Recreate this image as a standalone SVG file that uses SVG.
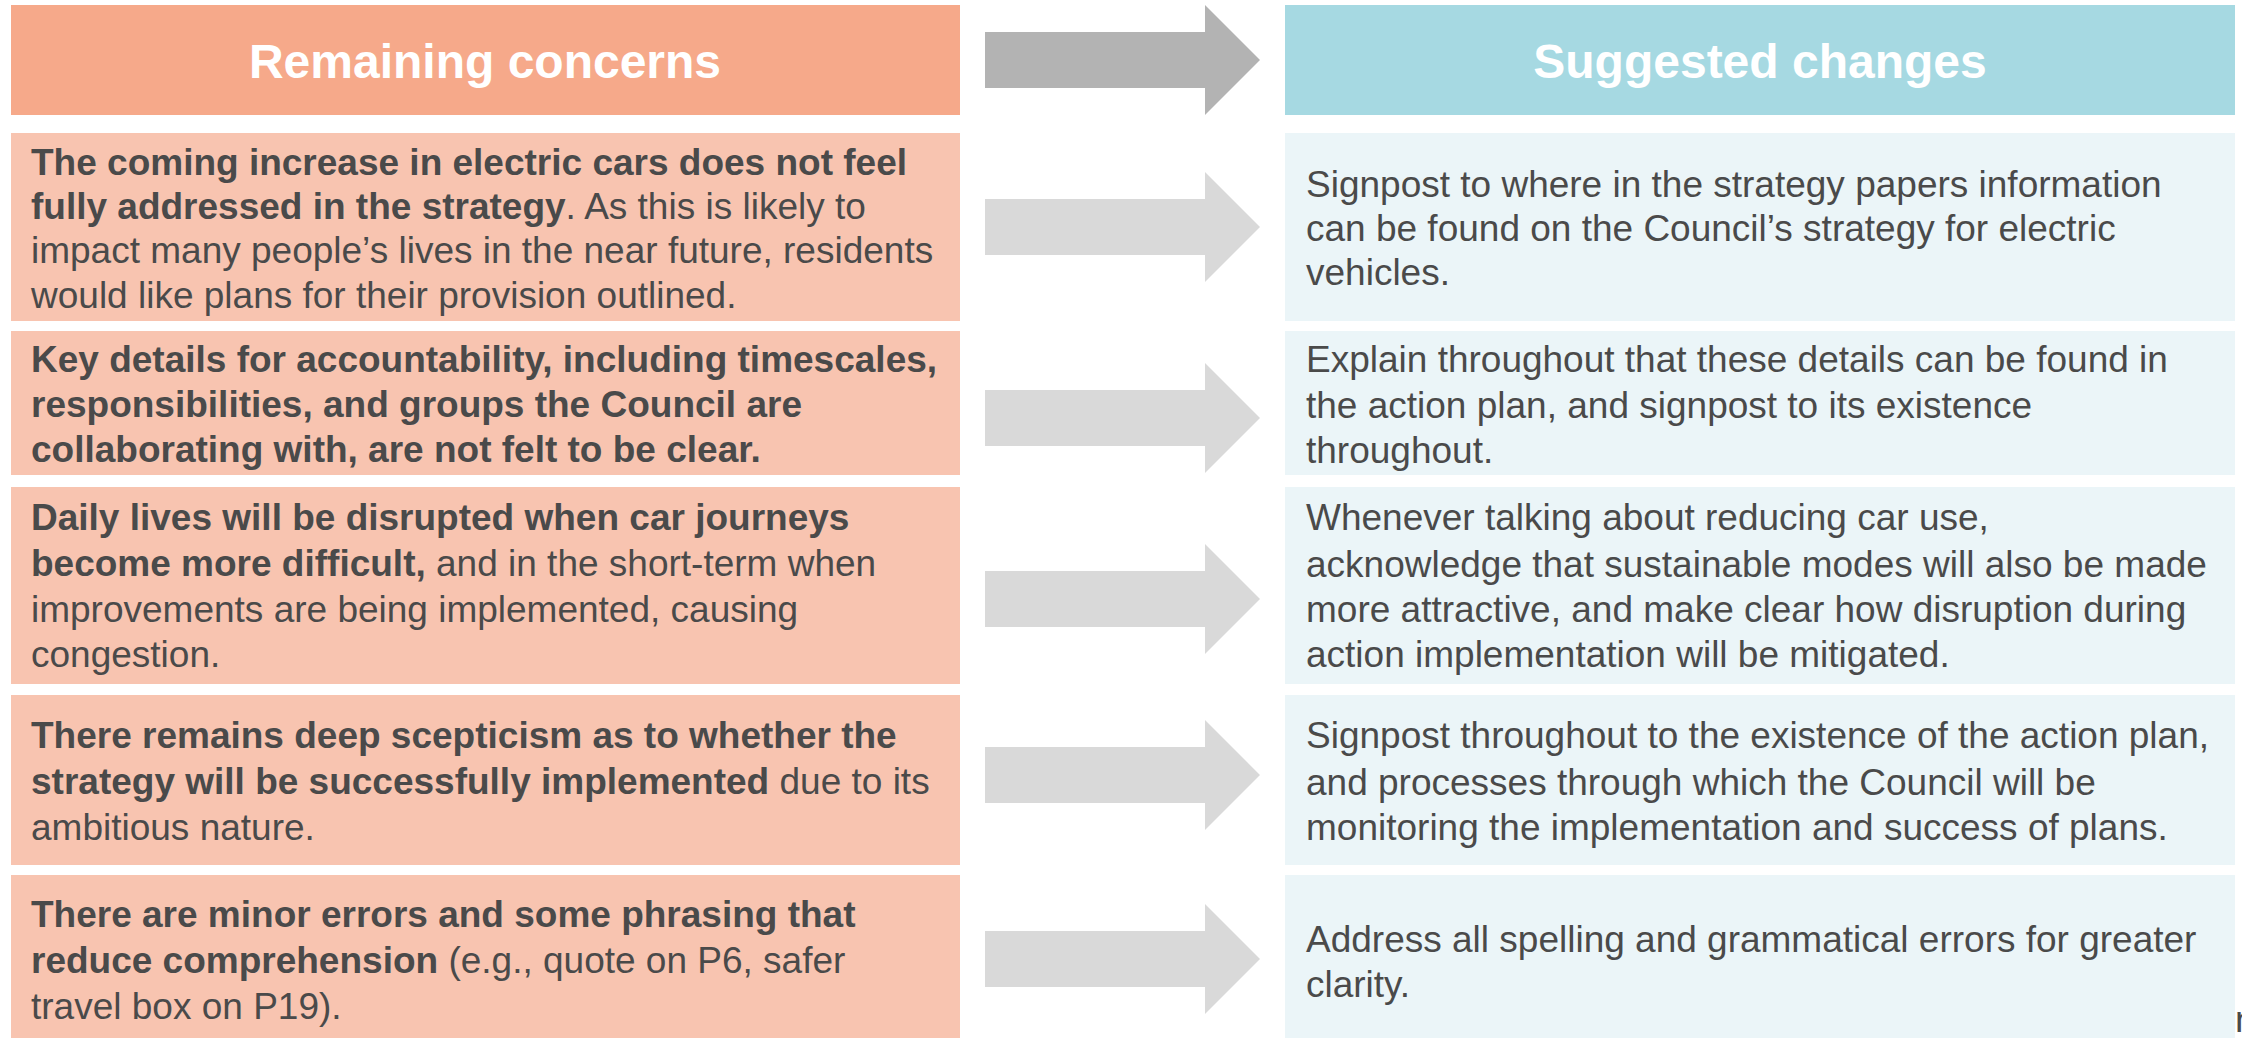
<svg xmlns="http://www.w3.org/2000/svg" width="2242" height="1038" viewBox="0 0 2242 1038">
<style>
.hl{fill:#F6A98A}
.hr{fill:#A6D9E2}
.bl{fill:#F8C4B0}
.br{fill:#EBF5F8}
.ht{font-family:"Liberation Sans",Arial,sans-serif;font-size:48px;font-weight:bold;fill:#ffffff;text-anchor:middle}
.t{font-family:"Liberation Sans",Arial,sans-serif;font-size:37px;fill:#4a4a4a}
.b{font-weight:bold}
.a0{fill:#B3B3B3}
.a{fill:#D9D9D9}
</style>
<defs>
<polygon id="arr" points="985,-28 1205,-28 1205,-55 1260,0 1205,55 1205,28 985,28"/>
</defs>
<rect width="2242" height="1038" fill="#ffffff"/>
<g id="header-left">
<rect class="hl" x="11" y="5" width="949" height="110"/>
<text class="ht" x="485" y="78">Remaining concerns</text>
</g>
<g id="header-right">
<rect class="hr" x="1285" y="5" width="950" height="110"/>
<text class="ht" x="1760" y="78">Suggested changes</text>
</g>
<g id="concern-1">
<rect class="bl" x="11" y="133" width="949" height="188"/>
<text class="t"><tspan class="b" x="31" y="175">The coming increase in electric cars does not feel</tspan><tspan x="31" y="219"><tspan class="b">fully addressed in the strategy</tspan>. As this is likely to</tspan><tspan x="31" y="263">impact many people’s lives in the near future, residents</tspan><tspan x="31" y="308">would like plans for their provision outlined.</tspan></text>
</g>
<g id="concern-2">
<rect class="bl" x="11" y="331" width="949" height="144"/>
<text class="t b"><tspan x="31" y="372">Key details for accountability, including timescales,</tspan><tspan x="31" y="417">responsibilities, and groups the Council are</tspan><tspan x="31" y="462">collaborating with, are not felt to be clear.</tspan></text>
</g>
<g id="concern-3">
<rect class="bl" x="11" y="487" width="949" height="197"/>
<text class="t"><tspan class="b" x="31" y="530">Daily lives will be disrupted when car journeys</tspan><tspan x="31" y="576"><tspan class="b">become more difficult,</tspan> and in the short-term when</tspan><tspan x="31" y="622">improvements are being implemented, causing</tspan><tspan x="31" y="667">congestion.</tspan></text>
</g>
<g id="concern-4">
<rect class="bl" x="11" y="695" width="949" height="170"/>
<text class="t"><tspan class="b" x="31" y="748">There remains deep scepticism as to whether the</tspan><tspan x="31" y="794"><tspan class="b">strategy will be successfully implemented</tspan> due to its</tspan><tspan x="31" y="840">ambitious nature.</tspan></text>
</g>
<g id="concern-5">
<rect class="bl" x="11" y="875" width="949" height="163"/>
<text class="t"><tspan class="b" x="31" y="927">There are minor errors and some phrasing that</tspan><tspan x="31" y="973"><tspan class="b">reduce comprehension</tspan> (e.g., quote on P6, safer</tspan><tspan x="31" y="1019">travel box on P19).</tspan></text>
</g>
<g id="change-1">
<rect class="br" x="1285" y="133" width="950" height="188"/>
<text class="t"><tspan x="1306" y="197">Signpost to where in the strategy papers information</tspan><tspan x="1306" y="241">can be found on the Council’s strategy for electric</tspan><tspan x="1306" y="285">vehicles.</tspan></text>
</g>
<g id="change-2">
<rect class="br" x="1285" y="331" width="950" height="144"/>
<text class="t"><tspan x="1306" y="372">Explain throughout that these details can be found in</tspan><tspan x="1306" y="418">the action plan, and signpost to its existence</tspan><tspan x="1306" y="463">throughout.</tspan></text>
</g>
<g id="change-3">
<rect class="br" x="1285" y="487" width="950" height="197"/>
<text class="t"><tspan x="1306" y="530">Whenever talking about reducing car use,</tspan><tspan x="1306" y="577">acknowledge that sustainable modes will also be made</tspan><tspan x="1306" y="622">more attractive, and make clear how disruption during</tspan><tspan x="1306" y="667">action implementation will be mitigated.</tspan></text>
</g>
<g id="change-4">
<rect class="br" x="1285" y="695" width="950" height="170"/>
<text class="t"><tspan x="1306" y="748">Signpost throughout to the existence of the action plan,</tspan><tspan x="1306" y="795">and processes through which the Council will be</tspan><tspan x="1306" y="840">monitoring the implementation and success of plans.</tspan></text>
</g>
<g id="change-5">
<rect class="br" x="1285" y="875" width="950" height="163"/>
<text class="t"><tspan x="1306" y="952">Address all spelling and grammatical errors for greater</tspan><tspan x="1306" y="997">clarity.</tspan></text>
<text class="t" x="2235" y="1032">n</text>
</g>
<g id="connectors">
<use href="#arr" class="a0" transform="translate(0,60)"/>
<use href="#arr" class="a" transform="translate(0,227)"/>
<use href="#arr" class="a" transform="translate(0,418)"/>
<use href="#arr" class="a" transform="translate(0,599)"/>
<use href="#arr" class="a" transform="translate(0,775)"/>
<use href="#arr" class="a" transform="translate(0,959)"/>
</g>
</svg>
